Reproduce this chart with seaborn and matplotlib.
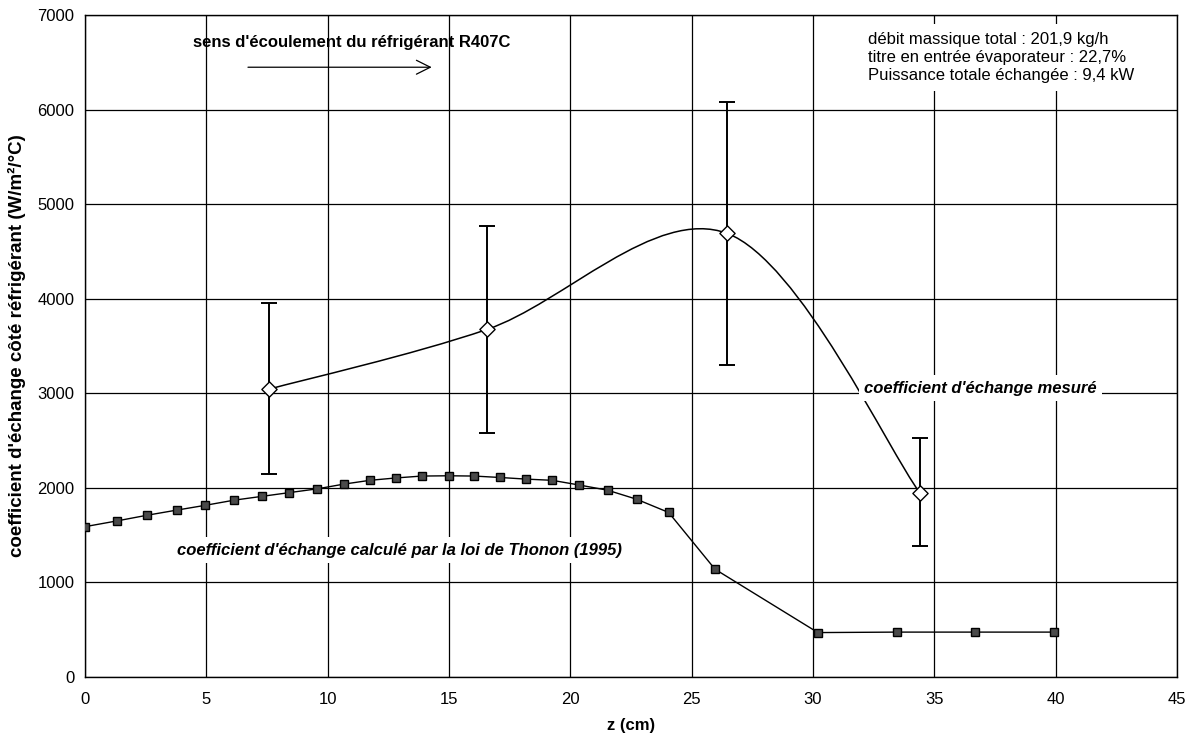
import numpy as np
import matplotlib
matplotlib.use('Agg')
import matplotlib.pyplot as plt
import seaborn as sns
from matplotlib.path import Path
from matplotlib.patches import PathPatch

# calculated coefficient (Thonon 1995)
z_calc = [0, 1.30, 2.54, 3.78, 4.94, 6.14, 7.28, 8.42, 9.57, 10.67, 11.74, 12.81,
          13.87, 15.0, 16.04, 17.1, 18.16, 19.25, 20.37, 21.54, 22.73, 24.05, 25.96,
          30.2, 33.44, 36.67, 39.93]
h_calc = [1590, 1650, 1710, 1765, 1815, 1870, 1910, 1950, 1990, 2040, 2080, 2105,
          2125, 2128, 2125, 2110, 2093, 2080, 2030, 1975, 1880, 1740, 1140,
          470, 475, 475, 475]

# measured coefficient with error bars
z_mes = [7.58, 16.56, 26.47, 34.4]
h_mes = [3044, 3675, 4690, 1948]
err_low = [895, 1090, 1392, 563]
err_high = [910, 1090, 1392, 582]


def smooth_path(x, y):
    # excel-like smoothed line (cubic bezier through the points)
    pts = np.column_stack([x, y]).astype(float)
    n = len(pts)
    verts = [pts[0]]
    codes = [Path.MOVETO]
    for i in range(n - 1):
        p0 = pts[max(i - 1, 0)]
        p1 = pts[i]
        p2 = pts[i + 1]
        p3 = pts[min(i + 2, n - 1)]
        verts += [p1 + (p2 - p0) / 6, p2 - (p3 - p1) / 6, p2]
        codes += [Path.CURVE4] * 3
    return Path(verts, codes)


sns.set_style('white')
plt.rcParams['font.family'] = ['Liberation Sans', 'DejaVu Sans']
plt.rcParams['text.color'] = 'black'
plt.rcParams['axes.labelcolor'] = 'black'
plt.rcParams['xtick.color'] = 'black'
plt.rcParams['ytick.color'] = 'black'

fig = plt.figure(figsize=(11.91, 7.4), dpi=100)
ax = fig.add_axes([0.0714, 0.0851, 0.9169, 0.8946])

sns.lineplot(x=z_calc, y=h_calc, ax=ax, color='black', linewidth=1.0,
             marker='s', markersize=6, markerfacecolor='#4a4a4a',
             markeredgecolor='black', markeredgewidth=1.0, zorder=3)

ax.add_patch(PathPatch(smooth_path(z_mes, h_mes), facecolor='none',
                       edgecolor='black', linewidth=1.1, zorder=3))
ax.errorbar(z_mes, h_mes, yerr=[err_low, err_high], fmt='none', ecolor='black',
            elinewidth=1.4, capsize=6, capthick=1.4, zorder=3)
sns.scatterplot(x=z_mes, y=h_mes, ax=ax, marker='D', s=60, color='white',
                edgecolor='black', linewidth=1.0, zorder=4)

ax.set_xlim(0, 45)
ax.set_ylim(0, 7000)
ax.set_xticks(range(0, 46, 5))
ax.set_yticks(range(0, 7001, 1000))
ax.grid(True, color='black', linewidth=0.9)
ax.set_axisbelow(True)
for s in ax.spines.values():
    s.set_color('black')
    s.set_linewidth(1.0)
ax.tick_params(axis='both', labelsize=12, length=4, color='black', direction='out')
ax.tick_params(axis='x', pad=7)

ax.set_xlabel('z (cm)', fontsize=12, fontweight='bold', labelpad=8)
ax.set_ylabel("coefficient d'échange côté réfrigérant (W/m²/°C)", fontsize=13.5,
              fontweight='bold', labelpad=8)

ax.text(4.45, 6712, "sens d'écoulement du réfrigérant R407C", fontsize=12,
        fontweight='bold', ha='left', va='center')
ax.annotate('', xy=(14.4, 6448), xytext=(6.6, 6448),
            arrowprops=dict(arrowstyle='->', lw=0.9, mutation_scale=25, color='black'))

ax.text(32.26, 6820, "débit massique total : 201,9 kg/h\n"
        "titre en entrée évaporateur : 22,7%\n"
        "Puissance totale échangée : 9,4 kW",
        fontsize=12, ha='left', va='top', linespacing=1.25,
        bbox=dict(facecolor='white', edgecolor='none', pad=6))

ax.text(32.1, 3055, "coefficient d'échange mesuré", fontsize=12,
        fontweight='bold', style='italic', ha='left', va='center',
        bbox=dict(facecolor='white', edgecolor='none', pad=4))
ax.text(3.8, 1342, "coefficient d'échange calculé par la loi de Thonon (1995)",
        fontsize=12, fontweight='bold', style='italic', ha='left', va='center',
        bbox=dict(facecolor='white', edgecolor='none', pad=4))

fig.savefig('out.png', dpi=100)
